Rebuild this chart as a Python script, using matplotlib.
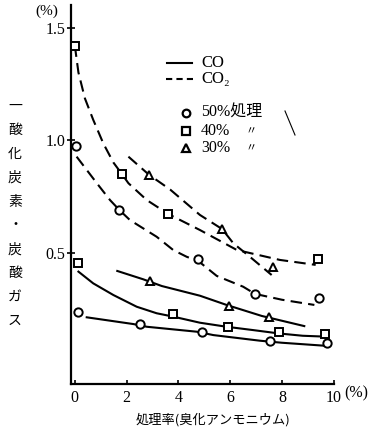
import matplotlib
matplotlib.use("Agg")
import matplotlib.pyplot as plt
from matplotlib.lines import Line2D

# 処理率 (%) と濃度 (%) -- 図から読み取った値
# CO2 (破線)
co2_x_50 = [0.03, 1.72, 4.77, 6.96, 9.44]
co2_y_50 = [0.975, 0.689, 0.471, 0.316, 0.298]
co2_x_40 = [0.0, 1.81, 3.61, 9.40]
co2_y_40 = [1.42, 0.849, 0.671, 0.470]
co2_x_30 = [2.86, 5.69, 7.66]
co2_y_30 = [0.846, 0.604, 0.434]

# CO (実線)
co_x_50 = [0.14, 2.52, 4.90, 7.54, 9.73]
co_y_50 = [0.237, 0.182, 0.145, 0.108, 0.099]
co_x_40 = [0.11, 3.80, 5.93, 7.90, 9.67]
co_y_40 = [0.452, 0.225, 0.170, 0.148, 0.139]
co_x_30 = [2.90, 5.97, 7.51]
co_y_30 = [0.375, 0.264, 0.215]

# 手書きの曲線 (図からなぞった点)
curve_co2_50_x = [0.07, 0.46, 0.85, 1.36, 1.72, 2.13, 3.16, 3.80, 4.32, 4.77, 5.48, 6.5, 6.96, 8.0, 9.25]
curve_co2_50_y = [0.926, 0.867, 0.808, 0.733, 0.689, 0.644, 0.570, 0.511, 0.481, 0.462, 0.396, 0.348, 0.316, 0.29, 0.267]
curve_co2_40_x = [0.0, 0.14, 0.39, 0.71, 1.10, 1.49, 1.81, 2.07, 2.78, 3.61, 4.83, 6.26, 7.92, 9.3]
curve_co2_40_y = [1.42, 1.30, 1.185, 1.09, 0.985, 0.90, 0.85, 0.808, 0.733, 0.671, 0.60, 0.511, 0.467, 0.445]
curve_co2_30_x = [2.07, 2.86, 3.68, 4.83, 5.69, 6.12, 6.76, 7.6]
curve_co2_30_y = [0.926, 0.846, 0.78, 0.667, 0.604, 0.541, 0.481, 0.40]

curve_co_50_x = [0.46, 2.26, 2.78, 4.71, 5.35, 7.15, 7.99, 9.73]
curve_co_50_y = [0.212, 0.182, 0.170, 0.148, 0.133, 0.108, 0.099, 0.085]
curve_co_40_x = [0.14, 0.71, 1.49, 2.39, 3.16, 3.80, 4.83, 5.86, 6.9, 7.9, 8.8, 9.7]
curve_co_40_y = [0.415, 0.363, 0.311, 0.259, 0.230, 0.215, 0.188, 0.17, 0.155, 0.14, 0.13, 0.126]
curve_co_30_x = [1.64, 2.64, 3.36, 4.83, 5.86, 7.22, 8.86]
curve_co_30_y = [0.418, 0.381, 0.351, 0.308, 0.267, 0.218, 0.173]

x_ticks = [0, 2, 4, 6, 8, 10]
y_ticks = [0.5, 1.0, 1.5]
y_tick_labels = ["0.5", "1.0", "1.5"]

SERIF = ["Liberation Serif", "DejaVu Serif", "Noto Sans CJK JP"]
JP = ["Noto Sans CJK JP", "DejaVu Sans"]

W, H = 374, 437


def fx(px):
    return px / W


def fy(py):
    return 1 - py / H


fig = plt.figure(figsize=(3.74, 4.37), dpi=100)
fig.patch.set_facecolor("white")
ax = fig.add_axes([fx(71), fy(384), fx(333.8) - fx(71), fy(5) - fy(384)])

dash = (0, (5.5, 3))
lw = 1.5
mk = dict(markersize=6, markeredgewidth=1.4, markerfacecolor="white",
          markeredgecolor="black", linestyle="none", zorder=3)

# 曲線
for cx, cy in [(curve_co2_50_x, curve_co2_50_y), (curve_co2_40_x, curve_co2_40_y),
               (curve_co2_30_x, curve_co2_30_y)]:
    ax.plot(cx, cy, color="black", lw=lw, linestyle=dash, zorder=2)
for cx, cy in [(curve_co_50_x, curve_co_50_y), (curve_co_40_x, curve_co_40_y),
               (curve_co_30_x, curve_co_30_y)]:
    ax.plot(cx, cy, color="black", lw=lw, zorder=2)

# 測定点
ax.plot(co2_x_50, co2_y_50, marker="o", **mk)
ax.plot(co2_x_40, co2_y_40, marker="s", **mk)
ax.plot(co2_x_30, co2_y_30, marker="^", **mk)
ax.plot(co_x_50, co_y_50, marker="o", **mk)
ax.plot(co_x_40, co_y_40, marker="s", **mk)
ax.plot(co_x_30, co_y_30, marker="^", **mk)

ax.set_xlim(-0.147, 10.0)
ax.set_ylim(-0.0844, 1.6)
for s in ["top", "right"]:
    ax.spines[s].set_visible(False)
for s in ["left", "bottom"]:
    ax.spines[s].set_linewidth(1.6)

ax.set_xticks(x_ticks)
ax.set_xticklabels([str(t) for t in x_ticks], family=SERIF, fontsize=11.5)
ax.set_yticks(y_ticks)
ax.set_yticklabels(y_tick_labels, family=SERIF, fontsize=11.5)
ax.tick_params(axis="x", direction="in", length=3, width=1.2, pad=4)
ax.tick_params(axis="y", direction="inout", length=6, width=1.2, pad=1)

# 単位
fig.text(fx(47), fy(11), "(%)", family=SERIF, fontsize=11, ha="center", va="center")
fig.text(fx(356), fy(393), "(%)", family=SERIF, fontsize=11.5, ha="center", va="center")

# 軸ラベル
fig.text(fx(213), fy(420), "処理率(臭化アンモニウム)", family=JP, fontsize=9.5,
         ha="center", va="center")
fig.text(fx(15), fy(213.5), "\n".join("一酸化炭素・炭酸ガス"), family=JP,
         fontsize=10, ha="center", va="center", linespacing=1.9)

# 凡例 (線種)
fig.add_artist(Line2D([fx(167), fx(192)], [fy(63), fy(63)], color="black", lw=lw))
fig.add_artist(Line2D([fx(166), fx(193)], [fy(79), fy(79)], color="black", lw=lw,
                      linestyle=(0, (3, 2))))
fig.text(fx(201), fy(63), "CO", family=SERIF, fontsize=12, va="center")
fig.text(fx(201), fy(79), "CO₂", family=SERIF, fontsize=12, va="center")

# 凡例 (処理濃度)
leg_marks = ["o", "s", "^"]
leg_labels = ["50%処理", "40%", "30%"]
leg_y = [113, 131, 148]
for m, lab, yy in zip(leg_marks, leg_labels, leg_y):
    fig.add_artist(Line2D([fx(186)], [fy(yy)], marker=m, markersize=5.5,
                          markeredgewidth=1.6, markerfacecolor="white",
                          markeredgecolor="black", linestyle="none"))
    fig.text(fx(201), fy(yy), lab, family=SERIF, fontsize=11.5, va="center")
for yy in leg_y[1:]:
    fig.text(fx(251), fy(yy), "〃", family=JP, fontsize=8, ha="center", va="center")
fig.add_artist(Line2D([fx(285), fx(295)], [fy(111), fy(135)], color="black", lw=0.8))

fig.savefig("out.png", dpi=100, facecolor="white")
